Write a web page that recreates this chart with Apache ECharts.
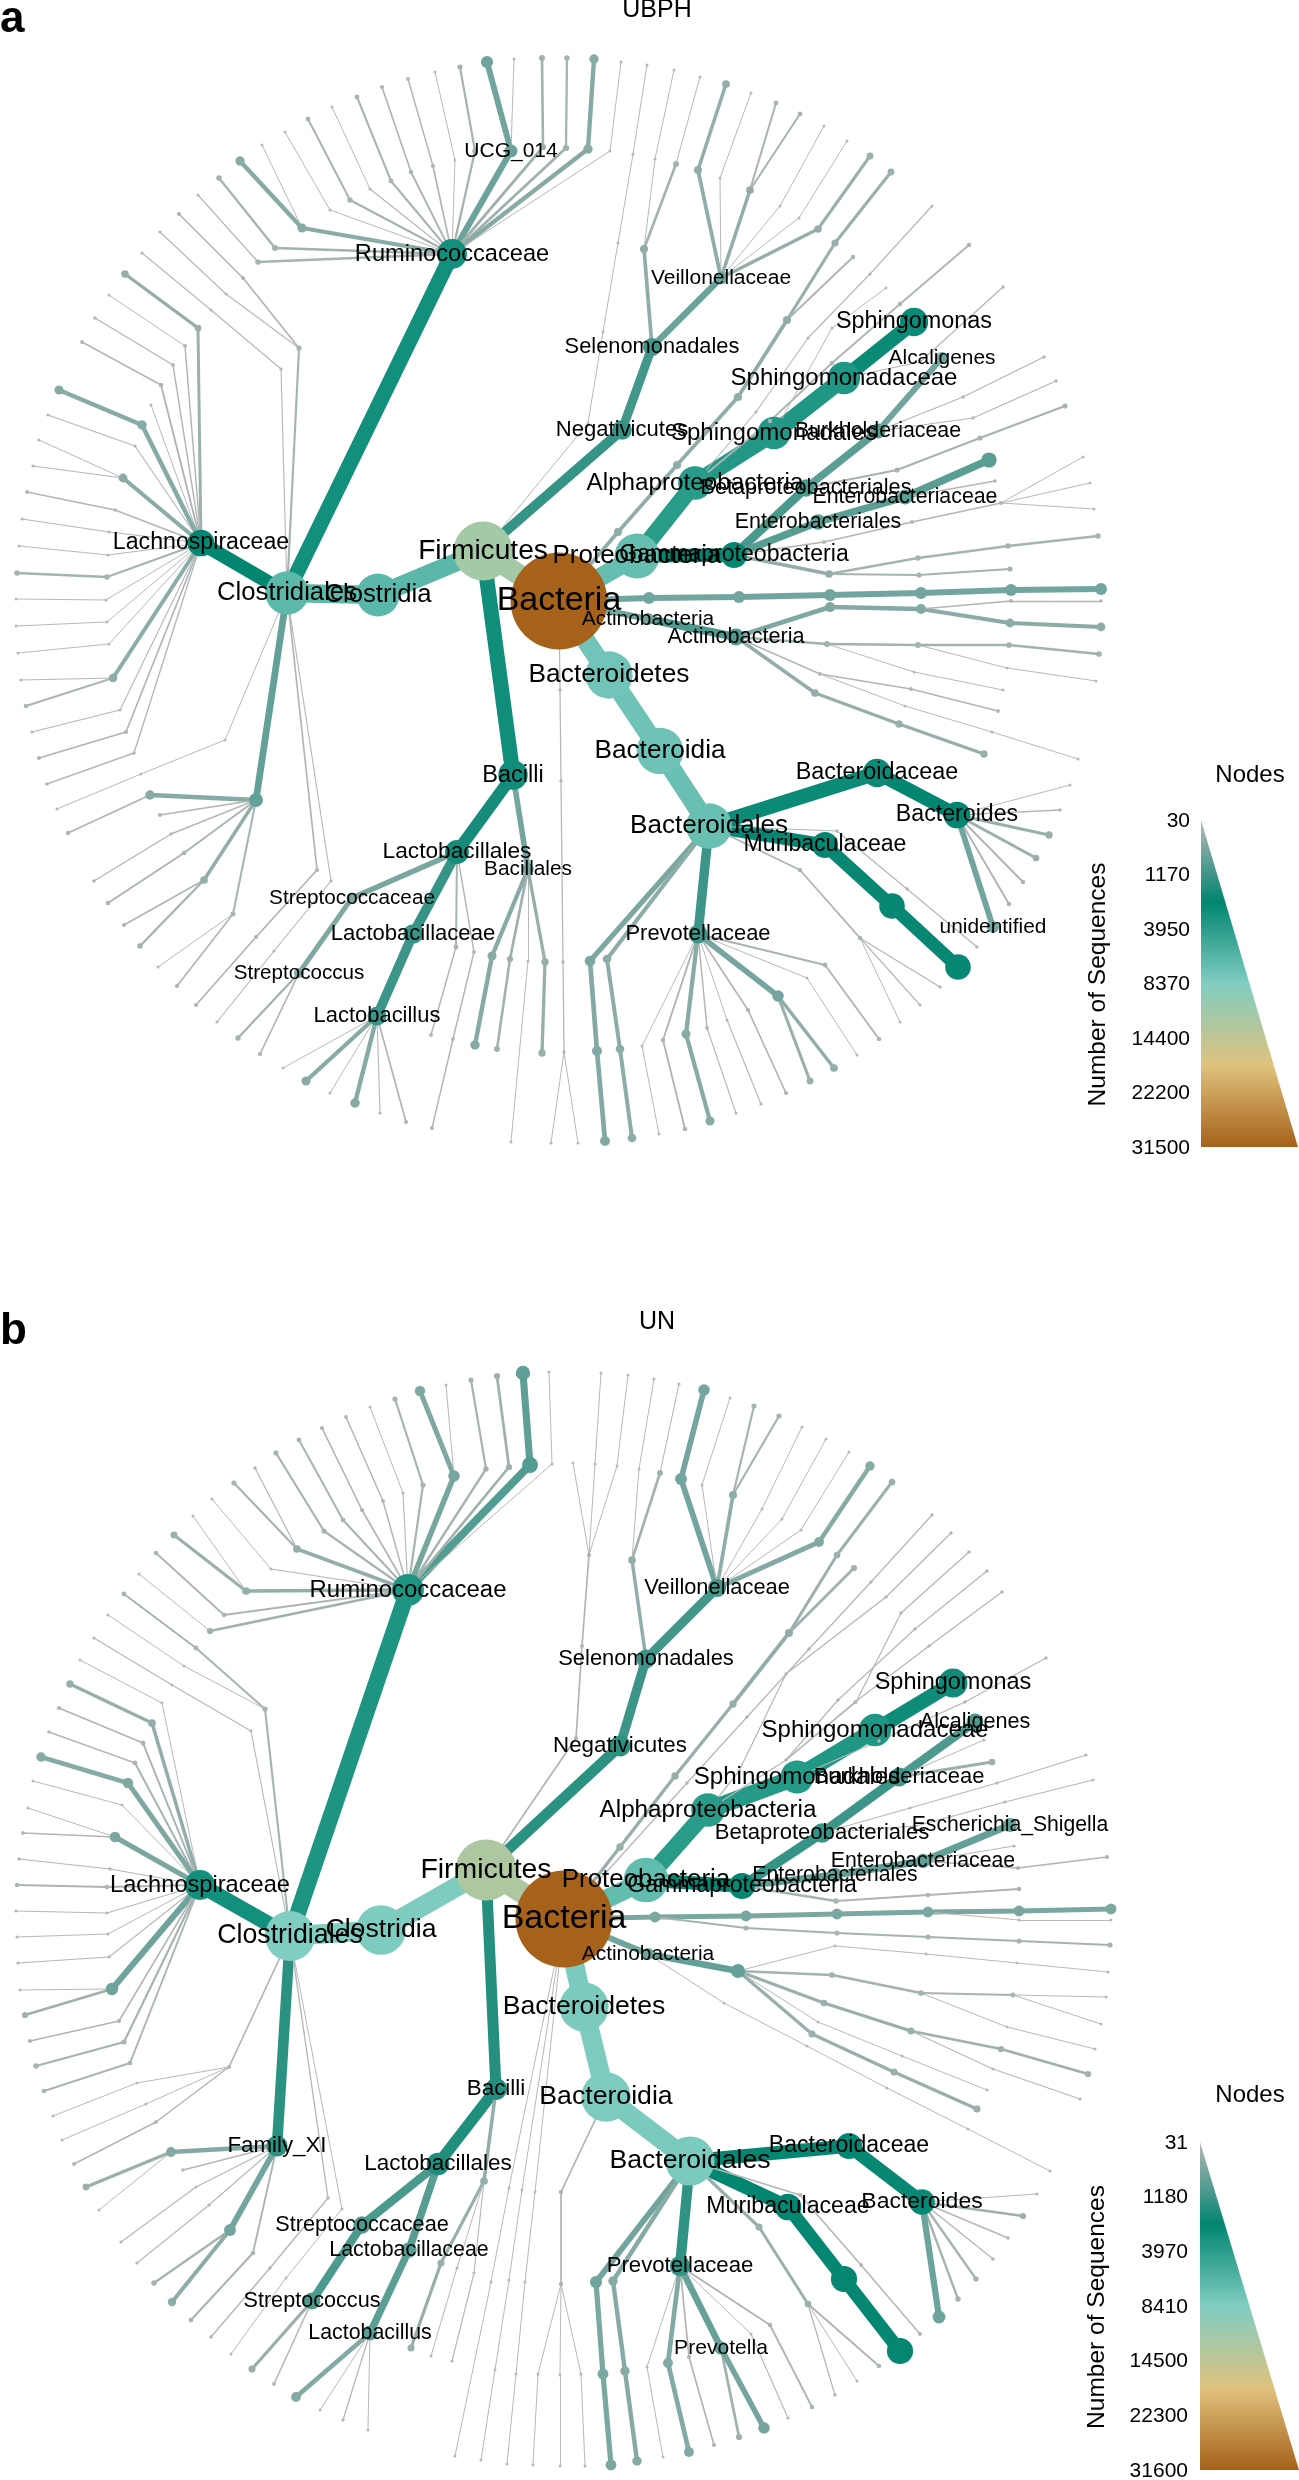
<!DOCTYPE html>
<html>
<head>
<meta charset="utf-8">
<title>Heat trees UBPH / UN</title>
<script src="https://cdn.jsdelivr.net/npm/echarts@6/dist/echarts.min.js"></script>
<style>
* { margin: 0; padding: 0; }
body { background: #fff; }
#chart { width: 1299px; height: 2480px; }
</style>
</head>
<body>
<div id="chart"></div>
<script>
// one row per taxon: name, parent ('^' = row above), layout x, layout y, number of sequences
// names with _ or empty get no label, #2 keeps a repeated taxon apart
const treeA = [
  ['Bacteria', null, 559, 601, 31500],
  ['Firmicutes', 'Bacteria', 483, 551, 11700],
  ['Clostridia', 'Firmicutes', 378, 595, 6200],
  ['Clostridiales', 'Clostridia', 287, 593, 6300],
  ['Ruminococcaceae', 'Clostridiales', 452, 254, 3000],
  ['Lachnospiraceae', 'Clostridiales', 201, 543, 2400],
  ['_fam', 'Clostridiales', 256, 800, 650],
  ['', 'Clostridiales', 317, 870, 60], ['', '^', 256, 937, 60], ['', '^', 196, 1005, 60],
  ['', 'Clostridiales', 331, 881, 35], ['', '^', 274, 951, 35], ['', '^', 217, 1022, 35],
  ['', 'Clostridiales', 225, 740, 30], ['', '^', 141, 774, 30], ['', '^', 57, 809, 30],
  ['_c1', 'Clostridiales', 299, 348, 90],
  ['', '_c1', 243, 278, 60], ['', '^', 179, 214, 60],
  ['', '_c1', 226, 294, 35], ['', '^', 160, 232, 35],
  ['', 'Clostridiales', 281, 369, 35], ['', '^', 211, 310, 35], ['', '^', 142, 253, 35],
  ['_f1', '_fam', 150, 795, 300], ['', '_f1', 68, 833, 65],
  ['', '_fam', 160, 815, 60],
  ['', '_fam', 171, 834, 45], ['', '^', 94, 881, 45],
  ['', '_fam', 184, 853, 75], ['', '^', 108, 903, 75],
  ['_f2', '_fam', 204, 880, 200], ['', '_f2', 124, 925, 60], ['', '_f2', 140, 946, 100],
  ['_f3', '_fam', 233, 914, 85], ['', '_f3', 158, 967, 30], ['', '_f3', 177, 986, 60],
  // Lachnospiraceae
  ['', 'Lachnospiraceae', 198, 328, 150], ['', '^', 125, 274, 190],
  ['', 'Lachnospiraceae', 185, 346, 50], ['', '^', 109, 295, 30],
  ['', 'Lachnospiraceae', 173, 365, 50], ['', '^', 95, 318, 45],
  ['', 'Lachnospiraceae', 161, 385, 70], ['', '^', 82, 342, 50],
  ['', 'Lachnospiraceae', 151, 405, 30],
  ['', 'Lachnospiraceae', 142, 425, 300], ['', '^', 59, 390, 280],
  ['', 'Lachnospiraceae', 135, 446, 35], ['', '^', 48, 415, 35],
  ['_l1', 'Lachnospiraceae', 123, 478, 260], ['', '_l1', 39, 440, 30], ['', '_l1', 33, 466, 35],
  ['', 'Lachnospiraceae', 115, 510, 45], ['', '^', 27, 492, 50],
  ['', 'Lachnospiraceae', 109, 532, 35], ['', '^', 22, 519, 35],
  ['', 'Lachnospiraceae', 108, 555, 35], ['', '^', 19, 546, 30],
  ['', 'Lachnospiraceae', 107, 577, 100], ['', '^', 17, 573, 100],
  ['', 'Lachnospiraceae', 106, 600, 30], ['', '^', 16, 599, 30],
  ['', 'Lachnospiraceae', 107, 622, 30], ['', '^', 16, 626, 30],
  ['', 'Lachnospiraceae', 109, 644, 30], ['', '^', 18, 653, 30],
  ['_l2', 'Lachnospiraceae', 113, 678, 250], ['', '_l2', 21, 680, 35], ['', '_l2', 26, 706, 70],
  ['', 'Lachnospiraceae', 120, 710, 35], ['', '^', 32, 732, 35],
  ['', 'Lachnospiraceae', 126, 732, 60], ['', '^', 39, 758, 60],
  ['', 'Lachnospiraceae', 134, 753, 45], ['', '^', 47, 784, 45],
  // Ruminococcaceae
  ['UCG_014', 'Ruminococcaceae', 511, 151, 560], ['', 'UCG_014', 487, 62, 500], ['', 'UCG_014', 514, 59, 30],
  ['', 'Ruminococcaceae', 543, 147, 130], ['', '^', 542, 58, 120],
  ['', 'Ruminococcaceae', 566, 148, 130], ['', '^', 567, 58, 100],
  ['', 'Ruminococcaceae', 588, 149, 290], ['', '^', 594, 59, 290],
  ['', 'Ruminococcaceae', 610, 151, 30], ['', '^', 621, 62, 30],
  ['', 'Ruminococcaceae', 475, 151, 100], ['', '^', 460, 67, 90],
  ['', 'Ruminococcaceae', 455, 160, 30], ['', '^', 435, 72, 30],
  ['', 'Ruminococcaceae', 433, 166, 60], ['', '^', 408, 79, 50],
  ['', 'Ruminococcaceae', 411, 172, 70], ['', '^', 382, 87, 60],
  ['', 'Ruminococcaceae', 391, 181, 80], ['', '^', 357, 97, 80],
  ['', 'Ruminococcaceae', 370, 189, 35], ['', '^', 332, 107, 30],
  ['', 'Ruminococcaceae', 350, 200, 100], ['', '^', 308, 119, 80],
  ['', 'Ruminococcaceae', 330, 210, 30], ['', '^', 285, 132, 30],
  ['_r1', 'Ruminococcaceae', 302, 228, 280], ['', '_r1', 240, 161, 290], ['', '_r1', 262, 145, 30],
  ['', 'Ruminococcaceae', 275, 248, 120], ['', '^', 219, 178, 100],
  ['', 'Ruminococcaceae', 258, 262, 100], ['', '^', 198, 195, 35],
  // Negativicutes
  ['Negativicutes', 'Firmicutes', 622, 430, 1300],
  ['Selenomonadales', 'Negativicutes', 652, 347, 1100],
  ['Veillonellaceae', 'Selenomonadales', 721, 278, 560],
  ['_s1', 'Selenomonadales', 644, 249, 220],
  ['', '_s1', 655, 159, 30], ['', '^', 674, 70, 30],
  ['', '_s1', 676, 164, 120], ['', '^', 700, 77, 30],
  ['', 'Firmicutes', 588, 423, 30], ['', '^', 603, 332, 30], ['', '^', 618, 243, 30], ['', '^', 633, 154, 30], ['', '^', 647, 65, 30],
  ['', 'Veillonellaceae', 698, 170, 220], ['', '^', 726, 84, 200],
  ['', 'Veillonellaceae', 720, 178, 30], ['', '^', 751, 93, 30],
  ['_v1', 'Veillonellaceae', 750, 190, 200], ['', '_v1', 776, 103, 80], ['', '_v1', 800, 114, 80],
  ['', 'Veillonellaceae', 780, 206, 30], ['', '^', 824, 126, 30],
  ['', 'Veillonellaceae', 799, 218, 30], ['', '^', 847, 141, 30],
  ['', 'Veillonellaceae', 818, 229, 190], ['', '^', 870, 156, 160],
  // Bacilli
  ['Bacilli', 'Firmicutes', 513, 775, 2900],
  ['Lactobacillales', 'Bacilli', 457, 852, 1900],
  ['Lactobacillaceae', 'Lactobacillales', 413, 934, 1300],
  ['Lactobacillus', 'Lactobacillaceae', 377, 1016, 1200],
  ['Streptococcaceae', 'Lactobacillales', 352, 898, 400],
  ['Streptococcus', 'Streptococcaceae', 299, 973, 350],
  ['', 'Lactobacillales', 456, 947, 80], ['', '^', 431, 1035, 50],
  ['', 'Lactobacillales', 474, 952, 50], ['', '^', 453, 1039, 50], ['', '^', 432, 1128, 50],
  ['', 'Streptococcus', 238, 1038, 100],
  ['', 'Streptococcus', 260, 1054, 60],
  ['', 'Lactobacillus', 283, 1068, 30],
  ['', 'Lactobacillus', 306, 1081, 280],
  ['', 'Lactobacillus', 330, 1093, 30],
  ['', 'Lactobacillus', 355, 1103, 300],
  ['', 'Lactobacillus', 380, 1113, 35],
  ['', 'Lactobacillus', 406, 1122, 60],
  ['Bacillales', 'Bacilli', 528, 869, 450],
  ['', 'Bacillales', 492, 956, 280], ['', '^', 475, 1045, 300],
  ['', 'Bacillales', 510, 959, 130], ['', '^', 497, 1049, 120],
  ['', 'Bacillales', 528, 961, 30], ['', '^', 511, 1142, 30],
  ['', 'Bacillales', 545, 962, 180], ['', '^', 542, 1053, 180],
  ['', 'Bacteria', 560, 690, 40], ['', '^', 561, 781, 40], ['', '^', 563, 962, 40], ['_d1', '^', 564, 1052, 40],
  ['', '_d1', 551, 1143, 30], ['', '_d1', 578, 1143, 30],
  // Bacteroidetes
  ['Bacteroidetes', 'Bacteria', 609, 675, 7500],
  ['Bacteroidia', 'Bacteroidetes', 660, 751, 7300],
  ['Bacteroidales', 'Bacteroidia', 709, 826, 7000],
  ['Bacteroidaceae', 'Bacteroidales', 877, 773, 2700],
  ['Bacteroides', 'Bacteroidaceae', 957, 815, 2400],
  ['Muribaculaceae', 'Bacteroidales', 825, 845, 2300],
  ['', 'Muribaculaceae', 892, 906, 2200], ['', '^', 958, 967, 2200],
  ['unidentified', 'Bacteroides', 993, 927, 480],
  ['', 'Bacteroides', 1070, 785, 30],
  ['', 'Bacteroides', 1060, 810, 45],
  ['', 'Bacteroides', 1049, 835, 180],
  ['', 'Bacteroides', 1036, 858, 150],
  ['', 'Bacteroides', 1023, 882, 70],
  ['', 'Bacteroides', 1009, 904, 70],
  ['Prevotellaceae', 'Bacteroidales', 698, 934, 1200],
  ['', 'Bacteroidales', 590, 961, 380], ['', '^', 597, 1051, 330], ['', '^', 605, 1141, 330],
  ['', 'Bacteroidales', 607, 959, 250], ['', '^', 620, 1049, 250], ['', '^', 632, 1138, 250],
  ['', 'Bacteroidales', 800, 870, 70], ['_b1', '^', 860, 938, 70],
  ['', '_b1', 940, 987, 45], ['', '_b1', 920, 1005, 35], ['', '_b1', 900, 1022, 30],
  ['', 'Bacteroidales', 837, 831, 40], ['', '^', 907, 889, 40], ['', '^', 977, 947, 40],
  ['', 'Prevotellaceae', 642, 1046, 30], ['', '^', 659, 1134, 30],
  ['', 'Prevotellaceae', 663, 1040, 70], ['', '^', 685, 1129, 70],
  ['', 'Prevotellaceae', 686, 1034, 280], ['', '^', 710, 1121, 280],
  ['', 'Prevotellaceae', 707, 1028, 50], ['', '^', 736, 1113, 35],
  ['', 'Prevotellaceae', 727, 1020, 30], ['', '^', 761, 1104, 35],
  ['', 'Prevotellaceae', 748, 1010, 60], ['', '^', 786, 1093, 60],
  ['_p2', 'Prevotellaceae', 778, 996, 450], ['', '_p2', 810, 1081, 160], ['', '_p2', 834, 1068, 200],
  ['', 'Prevotellaceae', 807, 978, 30], ['', '^', 857, 1055, 30],
  ['', 'Prevotellaceae', 825, 965, 80], ['', '^', 879, 1039, 70],
  // Proteobacteria
  ['Proteobacteria', 'Bacteria', 637, 556, 6800],
  ['Alphaproteobacteria', 'Proteobacteria', 695, 483, 3800],
  ['Sphingomonadales', 'Alphaproteobacteria', 774, 433, 3600],
  ['Sphingomonadaceae', 'Sphingomonadales', 844, 378, 3500],
  ['Sphingomonas', 'Sphingomonadaceae', 914, 322, 2700],
  ['', 'Bacteria', 618, 532, 220], ['', '^', 677, 465, 220], ['', '^', 738, 397, 220], ['_a1', '^', 787, 320, 220],
  ['', '_a1', 835, 243, 170], ['', '^', 891, 172, 160],
  ['', '_a1', 853, 257, 70],
  ['', 'Alphaproteobacteria', 756, 412, 35], ['', '^', 808, 338, 35], ['', '^', 870, 274, 35], ['', '^', 932, 206, 35],
  ['', 'Alphaproteobacteria', 770, 421, 70], ['', '^', 832, 363, 70], ['', '^', 900, 304, 70], ['', '^', 969, 245, 70],
  ['', 'Sphingomonadales', 832, 328, 30], ['', '^', 886, 288, 30],
  ['', 'Sphingomonadaceae', 920, 362, 40], ['', '^', 1003, 287, 40],
  ['Gammaproteobacteria', 'Proteobacteria', 734, 555, 2300],
  ['Betaproteobacteriales', 'Gammaproteobacteria', 806, 488, 1000],
  ['Burkholderiaceae', 'Betaproteobacteriales', 878, 431, 750],
  ['Alcaligenes', 'Burkholderiaceae', 942, 358, 500],
  ['Enterobacteriales', 'Gammaproteobacteria', 818, 522, 800],
  ['Enterobacteriaceae', 'Enterobacteriales', 905, 497, 750],
  ['', 'Enterobacteriaceae', 989, 460, 780],
  ['', 'Burkholderiaceae', 963, 397, 40], ['', '^', 1044, 357, 40],
  ['', 'Burkholderiaceae', 973, 418, 40], ['', '^', 1056, 381, 40],
  ['', 'Betaproteobacteriales', 897, 470, 90], ['', '^', 980, 438, 90], ['', '^', 1065, 406, 90],
  ['', 'Enterobacteriaceae', 995, 481, 45],
  ['', 'Gammaproteobacteria', 824, 542, 55], ['', '^', 912, 522, 55], ['_g1', '^', 1001, 503, 55],
  ['', '_g1', 1083, 457, 30], ['', '_g1', 1090, 483, 30], ['', '_g1', 1094, 509, 30],
  ['_g2', 'Gammaproteobacteria', 829, 574, 200],
  ['', '_g2', 918, 558, 100], ['', '^', 1008, 546, 100], ['', '^', 1098, 536, 100],
  ['', '_g2', 919, 575, 90], ['', '^', 1010, 569, 90],
  // straight row to the right of the root
  ['', 'Bacteria', 649, 598, 480], ['', '^', 739, 597, 480], ['', '^', 830, 595, 480], ['', '^', 921, 593, 480], ['', '^', 1011, 590, 480], ['', '^', 1101, 589, 480],
  // Actinobacteria
  ['Actinobacteria', 'Bacteria', 648, 619, 500],
  ['Actinobacteria#2', 'Actinobacteria', 736, 637, 950],
  ['_t1', 'Actinobacteria#2', 830, 607, 350], ['_t2', '^', 921, 609, 330],
  ['', '_t2', 1010, 623, 260], ['', '^', 1101, 627, 260],
  ['', '_t2', 1011, 601, 60], ['', '^', 1101, 601, 45],
  ['_t3', 'Actinobacteria#2', 827, 644, 120], ['_t4', '^', 918, 645, 120], ['', '^', 1009, 645, 110], ['', '^', 1099, 654, 110],
  ['', '_t3', 914, 672, 30], ['', '^', 1003, 690, 30],
  ['', '_t4', 1007, 668, 30], ['', '^', 1096, 681, 30],
  ['_t5', 'Actinobacteria#2', 820, 674, 50],
  ['', '_t5', 911, 689, 50], ['', '^', 998, 711, 50],
  ['', '_t5', 905, 706, 30], ['', '^', 992, 732, 30], ['', '^', 1078, 759, 30],
  ['', 'Actinobacteria#2', 815, 693, 200], ['', '^', 899, 724, 180], ['', '^', 984, 754, 180]
]

const treeB = [
  ['Bacteria', null, 564, 1919, 31600],
  ['Firmicutes', 'Bacteria', 486, 1870, 12500],
  ['Clostridia', 'Firmicutes', 381, 1930, 8300],
  ['Clostridiales', 'Clostridia', 290, 1936, 8400],
  ['Ruminococcaceae', 'Clostridiales', 408, 1590, 3400],
  ['Lachnospiraceae', 'Clostridiales', 200, 1885, 3000],
  ['Family_XI', 'Clostridiales', 277, 2146, 1500],
  ['_c1', 'Clostridiales', 229, 2067, 60],
  ['', '_c1', 137, 2083, 30], ['', '^', 53, 2116, 30],
  ['', '_c1', 146, 2104, 30], ['', '^', 62, 2140, 30],
  ['', '_c1', 156, 2122, 50], ['', '^', 74, 2164, 50],
  ['', 'Clostridiales', 328, 2198, 45], ['', '^', 270, 2268, 45], ['', '^', 211, 2337, 45],
  ['', 'Clostridiales', 342, 2209, 30], ['', '^', 286, 2278, 30], ['', '^', 231, 2354, 30],
  ['_c2', 'Clostridiales', 265, 1709, 90],
  ['', '_c2', 196, 1648, 80], ['', '^', 124, 1594, 80],
  ['', '_c2', 184, 1666, 30], ['', '^', 108, 1615, 30],
  ['', 'Clostridiales', 251, 1731, 35], ['', '^', 172, 1685, 35], ['', '^', 94, 1638, 35],
  // Family_XI
  ['_f1', 'Family_XI', 171, 2152, 320], ['', '_f1', 86, 2187, 160], ['', '_f1', 99, 2210, 30],
  ['', 'Family_XI', 183, 2170, 45],
  ['', 'Family_XI', 196, 2187, 35], ['', '^', 121, 2242, 35],
  ['', 'Family_XI', 209, 2205, 35], ['', '^', 137, 2263, 35],
  ['_f2', 'Family_XI', 230, 2230, 480], ['', '_f2', 154, 2283, 100], ['', '_f2', 172, 2302, 240],
  ['', 'Family_XI', 253, 2253, 70], ['', '^', 191, 2320, 80],
  // Lachnospiraceae
  ['', 'Lachnospiraceae', 162, 1703, 30], ['', '^', 80, 1660, 30],
  ['', 'Lachnospiraceae', 152, 1723, 200], ['', '^', 70, 1684, 180],
  ['', 'Lachnospiraceae', 143, 1743, 80], ['', '^', 59, 1708, 60],
  ['', 'Lachnospiraceae', 135, 1763, 80], ['', '^', 49, 1732, 45],
  ['', 'Lachnospiraceae', 128, 1783, 360], ['', '^', 41, 1757, 300],
  ['', 'Lachnospiraceae', 122, 1805, 30], ['', '^', 33, 1781, 30],
  ['_l1', 'Lachnospiraceae', 115, 1837, 380], ['', '_l1', 28, 1808, 30], ['', '_l1', 23, 1833, 50],
  ['', 'Lachnospiraceae', 110, 1869, 40], ['', '^', 19, 1859, 40],
  ['', 'Lachnospiraceae', 107, 1887, 70], ['', '^', 17, 1885, 70],
  ['', 'Lachnospiraceae', 107, 1913, 35], ['', '^', 16, 1911, 35],
  ['', 'Lachnospiraceae', 108, 1934, 30], ['', '^', 17, 1937, 30],
  ['', 'Lachnospiraceae', 109, 1957, 35], ['', '^', 18, 1963, 35],
  ['_l2', 'Lachnospiraceae', 112, 1989, 520], ['', '_l2', 20, 1990, 30], ['', '_l2', 25, 2015, 130],
  ['', 'Lachnospiraceae', 119, 2021, 55], ['', '^', 30, 2041, 60],
  ['', 'Lachnospiraceae', 124, 2042, 90], ['', '^', 36, 2066, 100],
  ['', 'Lachnospiraceae', 130, 2063, 75], ['', '^', 44, 2091, 75],
  // Ruminococcaceae
  ['', 'Ruminococcaceae', 530, 1465, 850], ['', '^', 523, 1373, 700],
  ['', 'Ruminococcaceae', 552, 1464, 30], ['', '^', 549, 1372, 30],
  ['', 'Ruminococcaceae', 509, 1467, 130], ['', '^', 497, 1376, 130],
  ['', 'Ruminococcaceae', 486, 1469, 100], ['', '^', 471, 1380, 90],
  ['_r1', 'Ruminococcaceae', 454, 1476, 440], ['', '_r1', 420, 1391, 360], ['', '_r1', 446, 1385, 30],
  ['', 'Ruminococcaceae', 423, 1485, 90], ['', '^', 395, 1399, 90],
  ['', 'Ruminococcaceae', 403, 1493, 35], ['', '^', 370, 1407, 30],
  ['', 'Ruminococcaceae', 383, 1501, 50], ['', '^', 346, 1417, 50],
  ['', 'Ruminococcaceae', 362, 1510, 60], ['', '^', 322, 1428, 60],
  ['', 'Ruminococcaceae', 343, 1520, 80], ['', '^', 299, 1440, 80],
  ['', 'Ruminococcaceae', 324, 1531, 90], ['', '^', 276, 1453, 90],
  ['_r2', 'Ruminococcaceae', 297, 1549, 200], ['', '_r2', 234, 1483, 90], ['', '_r2', 255, 1468, 40],
  ['', 'Ruminococcaceae', 271, 1569, 35], ['', '^', 212, 1499, 30],
  ['_r3', 'Ruminococcaceae', 246, 1591, 200], ['', '_r3', 174, 1535, 160], ['', '_r3', 193, 1516, 30],
  ['', 'Ruminococcaceae', 224, 1615, 70], ['', '^', 156, 1553, 70],
  ['', 'Ruminococcaceae', 210, 1631, 130], ['', '^', 139, 1574, 30],
  // Negativicutes
  ['Negativicutes', 'Firmicutes', 620, 1746, 1500],
  ['Selenomonadales', 'Negativicutes', 646, 1659, 1200],
  ['Veillonellaceae', 'Selenomonadales', 717, 1588, 1100],
  ['', 'Firmicutes', 576, 1738, 60], ['', '^', 582, 1646, 60], ['_n1', '^', 589, 1555, 60],
  ['', '_n1', 573, 1463, 30],
  ['', '_n1', 595, 1464, 30], ['', '^', 601, 1373, 30],
  ['', '_n1', 617, 1466, 30], ['', '^', 628, 1375, 30],
  ['_s1', 'Selenomonadales', 632, 1560, 200],
  ['', '_s1', 660, 1473, 120], ['', '^', 679, 1384, 35],
  ['', '_s1', 639, 1469, 30], ['', '^', 654, 1379, 30],
  ['', 'Veillonellaceae', 681, 1479, 480], ['', '^', 704, 1390, 450],
  ['', 'Veillonellaceae', 702, 1485, 30], ['', '^', 730, 1398, 30],
  ['_v1', 'Veillonellaceae', 733, 1495, 220], ['', '_v1', 754, 1406, 90], ['', '_v1', 779, 1416, 90],
  ['', 'Veillonellaceae', 762, 1509, 30], ['', '^', 802, 1427, 30],
  ['', 'Veillonellaceae', 782, 1519, 30], ['', '^', 826, 1439, 30],
  ['', 'Veillonellaceae', 801, 1530, 30], ['', '^', 849, 1452, 30],
  ['', 'Veillonellaceae', 819, 1542, 330], ['', '^', 870, 1466, 300],
  // Bacilli
  ['Bacilli', 'Firmicutes', 496, 2089, 1600],
  ['Lactobacillales', 'Bacilli', 438, 2164, 1700],
  ['Lactobacillaceae', 'Lactobacillales', 409, 2250, 800],
  ['Lactobacillus', 'Lactobacillaceae', 370, 2333, 750],
  ['Streptococcaceae', 'Lactobacillales', 362, 2225, 1000],
  ['Streptococcus', 'Streptococcaceae', 312, 2301, 950],
  ['_i1', 'Bacilli', 484, 2181, 200],
  ['', '_i1', 441, 2263, 170], ['', '^', 411, 2348, 170],
  ['', '_i1', 474, 2273, 35], ['', '^', 452, 2361, 35],
  ['', '_i1', 457, 2268, 30], ['', '^', 431, 2356, 30],
  ['', 'Streptococcus', 252, 2369, 170],
  ['', 'Streptococcus', 274, 2384, 50],
  ['', 'Lactobacillus', 296, 2397, 320],
  ['', 'Lactobacillus', 320, 2410, 30],
  ['', 'Lactobacillus', 343, 2420, 40],
  ['', 'Lactobacillus', 368, 2430, 30],
  // thin fan under the root
  ['', 'Bacteria', 509, 2188, 30], ['', '^', 491, 2282, 30], ['', '^', 455, 2456, 30],
  ['', 'Bacteria', 522, 2190, 30], ['', '^', 509, 2280, 30], ['', '^', 495, 2370, 30], ['', '^', 481, 2460, 30],
  ['', 'Bacteria', 535, 2192, 30], ['', '^', 525, 2282, 30], ['', '^', 516, 2374, 30], ['', '^', 507, 2464, 30],
  // Bacteroidetes
  ['Bacteroidetes', 'Bacteria', 584, 2007, 8100],
  ['Bacteroidia', 'Bacteroidetes', 606, 2097, 8200],
  ['Bacteroidales', 'Bacteroidia', 690, 2161, 8100],
  ['', 'Bacteroidia', 561, 2192, 65], ['_u1', '^', 561, 2284, 65],
  ['', '_u1', 538, 2374, 30], ['', '^', 533, 2465, 30],
  ['', '_u1', 560, 2375, 30], ['', '^', 560, 2466, 30],
  ['', '_u1', 581, 2374, 30], ['', '^', 585, 2466, 30],
  ['Bacteroidaceae', 'Bacteroidales', 849, 2146, 2300],
  ['Bacteroides', 'Bacteroidaceae', 922, 2202, 2200],
  ['Muribaculaceae', 'Bacteroidales', 788, 2207, 2400],
  ['', 'Muribaculaceae', 844, 2279, 2300], ['', '^', 900, 2351, 2300],
  ['', 'Bacteroides', 1037, 2194, 35],
  ['', 'Bacteroides', 1023, 2216, 130],
  ['', 'Bacteroides', 1008, 2238, 45],
  ['', 'Bacteroides', 993, 2259, 45],
  ['', 'Bacteroides', 976, 2279, 100],
  ['', 'Bacteroides', 958, 2299, 100],
  ['', 'Bacteroides', 939, 2317, 550],
  ['Prevotellaceae', 'Bacteroidales', 680, 2266, 1400],
  ['', 'Bacteroidales', 596, 2282, 500], ['', '^', 603, 2374, 400], ['', '^', 611, 2465, 400],
  ['', 'Bacteroidales', 613, 2281, 300], ['', '^', 625, 2371, 300], ['', '^', 637, 2461, 300],
  ['', 'Bacteroidales', 759, 2227, 170], ['_b1', '^', 808, 2304, 150],
  ['', '_b1', 879, 2366, 70], ['', '_b1', 857, 2381, 30], ['', '_b1', 835, 2395, 40],
  ['', 'Bacteroidales', 800, 2195, 50], ['', '^', 861, 2265, 50], ['', '^', 920, 2334, 50],
  ['', 'Prevotellaceae', 647, 2367, 30], ['', '^', 663, 2457, 30],
  ['', 'Prevotellaceae', 668, 2363, 330], ['', '^', 689, 2452, 330],
  ['', 'Prevotellaceae', 689, 2357, 60], ['', '^', 714, 2445, 60],
  ['Prevotella', 'Prevotellaceae', 721, 2348, 600],
  ['', 'Prevotella', 739, 2437, 130],
  ['', 'Prevotella', 764, 2428, 450],
  ['', 'Prevotellaceae', 751, 2334, 30], ['', '^', 788, 2418, 35],
  ['', 'Prevotellaceae', 770, 2325, 70], ['', '^', 812, 2407, 70],
  // Proteobacteria
  ['Proteobacteria', 'Bacteria', 646, 1880, 6700],
  ['Alphaproteobacteria', 'Proteobacteria', 708, 1810, 3800],
  ['Sphingomonadales', 'Alphaproteobacteria', 797, 1777, 3700],
  ['Sphingomonadaceae', 'Sphingomonadales', 875, 1730, 3500],
  ['Sphingomonas', 'Sphingomonadaceae', 953, 1683, 2800],
  ['', 'Bacteria', 620, 1847, 180], ['', '^', 675, 1776, 180], ['', '^', 733, 1704, 180], ['_a1', '^', 789, 1633, 220],
  ['', '_a1', 837, 1555, 150], ['', '^', 892, 1482, 150],
  ['', '_a1', 854, 1568, 130],
  ['', 'Bacteria', 687, 1783, 40], ['', '^', 747, 1717, 40], ['', '^', 809, 1649, 40], ['', '^', 871, 1582, 40], ['', '^', 932, 1515, 40],
  ['', 'Alphaproteobacteria', 739, 1771, 40], ['', '^', 786, 1674, 40], ['', '^', 886, 1597, 40], ['', '^', 951, 1533, 40],
  ['_a2', 'Alphaproteobacteria', 786, 1760, 40],
  ['', '_a2', 856, 1702, 40], ['', '^', 901, 1613, 40], ['', '^', 969, 1552, 40],
  ['', '_a2', 838, 1700, 40], ['', '^', 915, 1629, 40], ['', '^', 987, 1571, 40],
  ['', '_a2', 855, 1702, 40], ['', '^', 929, 1646, 40], ['', '^', 1002, 1592, 40],
  ['', 'Sphingomonadales', 879, 1741, 40], ['', '^', 965, 1702, 40], ['', '^', 1046, 1658, 40],
  ['Gammaproteobacteria', 'Proteobacteria', 742, 1886, 2300],
  ['Betaproteobacteriales', 'Gammaproteobacteria', 822, 1833, 1300],
  ['Burkholderiaceae', 'Betaproteobacteriales', 899, 1777, 1200],
  ['Alcaligenes', 'Burkholderiaceae', 975, 1722, 950],
  ['', 'Burkholderiaceae', 992, 1762, 150],
  ['', 'Burkholderiaceae', 984, 1740, 30],
  ['Enterobacteriales', 'Gammaproteobacteria', 835, 1875, 700],
  ['Enterobacteriaceae', 'Enterobacteriales', 923, 1861, 700],
  ['Escherichia_Shigella', 'Enterobacteriaceae', 1010, 1825, 650],
  ['', 'Enterobacteriaceae', 1014, 1846, 35],
  ['', 'Enterobacteriaceae', 1018, 1868, 60], ['', '^', 1107, 1857, 60],
  ['', 'Betaproteobacteriales', 910, 1808, 35], ['', '^', 997, 1783, 35], ['', '^', 1086, 1755, 35],
  ['', 'Betaproteobacteriales', 916, 1826, 35], ['', '^', 1005, 1802, 35], ['', '^', 1093, 1780, 35],
  ['', 'Gammaproteobacteria', 836, 1901, 100], ['', '^', 928, 1895, 70], ['', '^', 1019, 1889, 70],
  // straight rows to the right of the root
  ['_x1', 'Bacteria', 655, 1917, 400], ['', '^', 746, 1916, 400], ['', '^', 837, 1914, 400], ['_x2', '^', 928, 1912, 400], ['', '^', 1019, 1911, 400], ['', '^', 1111, 1909, 400],
  ['', '_x2', 1019, 1920, 30], ['', '^', 1111, 1920, 30],
  ['', '_x1', 746, 1928, 90], ['', '^', 837, 1933, 90], ['', '^', 928, 1937, 90], ['', '^', 1019, 1941, 90], ['', '^', 1110, 1945, 90],
  // Actinobacteria
  ['Actinobacteria', 'Bacteria', 648, 1954, 500],
  ['_t0', 'Actinobacteria', 738, 1971, 650],
  ['', '_t0', 835, 1946, 30], ['', '^', 926, 1954, 30], ['', '^', 1017, 1963, 30], ['', '^', 1108, 1972, 30],
  ['', '_t0', 832, 1975, 110], ['_t1', '^', 921, 1993, 110],
  ['_t2', '_t1', 1013, 1995, 80], ['', '_t2', 1106, 1997, 30], ['', '_t2', 1101, 2024, 30],
  ['', '_t1', 1007, 2027, 30], ['', '^', 1095, 2049, 30],
  ['', '_t0', 824, 2003, 150], ['_t3', '^', 911, 2031, 170],
  ['', '_t3', 1001, 2049, 130], ['', '^', 1088, 2074, 130],
  ['', '_t3', 993, 2069, 35], ['', '^', 1080, 2099, 35],
  ['', '_t0', 818, 2022, 30], ['', '^', 902, 2056, 30], ['', '^', 987, 2090, 30],
  ['', '_t0', 812, 2034, 170], ['', '^', 894, 2072, 170], ['', '^', 977, 2109, 170],
  ['', 'Actinobacteria', 724, 2003, 30], ['', '^', 807, 2046, 30], ['', '^', 887, 2088, 30], ['', '^', 968, 2129, 30], ['', '^', 1050, 2171, 30]
]

const paletteColors = ['#b8b8b8', '#018571', '#80cdc1', '#dfc27d', '#a6611a']
const legendTicksA = ['30', '1170', '3950', '8370', '14400', '22200', '31500']
const legendTicksB = ['31', '1180', '3970', '8410', '14500', '22300', '31600']
const minSequences = 30
const maxSequences = 31600

const fontFamily = '"Liberation Sans", Arial, Helvetica, sans-serif'

// position on the legend scale, colour and size both run on sqrt of the count
function scalePos(count) {
  const lo = Math.sqrt(minSequences)
  return Math.max(0, (Math.sqrt(count) - lo) / (Math.sqrt(maxSequences) - lo))
}
function nodeColor(count) {
  return echarts.color.lerp(scalePos(count), paletteColors)
}
function edgeWidth(count) {
  const t = scalePos(count)
  return 1 + Math.min(50 * t, 11 + 15 * t)
}

function buildTree(rows) {
  const byId = {}
  const edges = []
  const nodes = []
  let prev = null
  rows.forEach(r => {
    const id = r[0], parent = r[1], x = r[2], y = r[3], count = r[4]
    const from = parent === '^' ? prev : byId[parent]
    if (parent && !from) throw new Error('no parent ' + parent)
    if (from) {
      edges.push({
        coords: [[from.x, from.y], [x, y]],
        lineStyle: { width: edgeWidth(count), color: nodeColor(count), opacity: 1, cap: 'round' }
      })
    }
    const node = { id, x, y, count }
    if (id) byId[id] = node
    nodes.push(node)
    prev = node
  })
  return { edges, nodes }
}

function treeSeries(rows, name) {
  const tree = buildTree(rows)
  return [
    {
      name: name + ' edges',
      type: 'lines',
      coordinateSystem: 'cartesian2d',
      silent: true,
      z: 2,
      data: tree.edges
    },
    {
      name: name + ' nodes',
      type: 'scatter',
      silent: true,
      z: 3,
      data: tree.nodes.map(n => {
        const t = scalePos(n.count)
        const labelled = n.id && n.id[0] !== '_'
        return {
          value: [n.x, n.y, n.count],
          symbolSize: 3 + 94 * t,
          itemStyle: { color: nodeColor(n.count), opacity: 1 },
          label: {
            show: !!labelled,
            position: 'inside',
            formatter: labelled ? n.id.split('#')[0] : '',
            fontFamily: fontFamily,
            fontSize: 19.5 + 14.5 * t,
            color: '#000'
          }
        }
      })
    }
  ]
}

function textEl(text, x, y, size, opts) {
  return Object.assign({
    type: 'text',
    x: x,
    y: y,
    z: 10,
    style: Object.assign({
      text: text,
      fontFamily: fontFamily,
      fontSize: size,
      fill: '#000',
      align: 'center',
      verticalAlign: 'middle'
    }, opts && opts.style)
  }, opts && opts.el)
}

// legend wedge plus its tick labels
function legendEls(ticks, left, top, right, bottom, labelX, titleX, nodesY) {
  const stops = paletteColors.map((c, i) => ({ offset: i / (paletteColors.length - 1), color: c }))
  const els = [{
    type: 'polygon',
    z: 10,
    shape: { points: [[left, top], [left, bottom], [right, bottom]] },
    style: { fill: new echarts.graphic.LinearGradient(0, 0, 0, 1, stops) }
  }]
  ticks.forEach((t, i) => {
    els.push(textEl(t, labelX, top + 1 + (bottom - top) * i / (ticks.length - 1), 21, { style: { align: 'right' } }))
  })
  els.push(textEl('Nodes', 1250, nodesY, 24))
  els.push(textEl('Number of Sequences', titleX, (top + bottom) / 2 + 1, 24.5, { el: { rotation: Math.PI / 2 } }))
  return els
}

const chart = echarts.init(document.getElementById('chart'), null, { renderer: 'canvas' })
chart.setOption({
  animation: false,
  backgroundColor: '#fff',
  grid: { left: 0, right: 0, top: 0, bottom: 0 },
  xAxis: { type: 'value', min: 0, max: 1299, show: false },
  yAxis: { type: 'value', min: 0, max: 2480, inverse: true, show: false },
  series: treeSeries(treeA, 'UBPH').concat(treeSeries(treeB, 'UN')),
  graphic: [
    textEl('a', 0, 20, 44, { style: { align: 'left', fontWeight: 'bold' } }),
    textEl('UBPH', 657, 10, 25),
    textEl('b', 0, 1332, 44, { style: { align: 'left', fontWeight: 'bold' } }),
    textEl('UN', 657, 1322, 25)
  ].concat(
    legendEls(legendTicksA, 1201, 820, 1298, 1147, 1190, 1098, 775),
    legendEls(legendTicksB, 1200, 2142, 1299, 2470, 1188, 1097, 2095)
  )
})
</script>
</body>
</html>
